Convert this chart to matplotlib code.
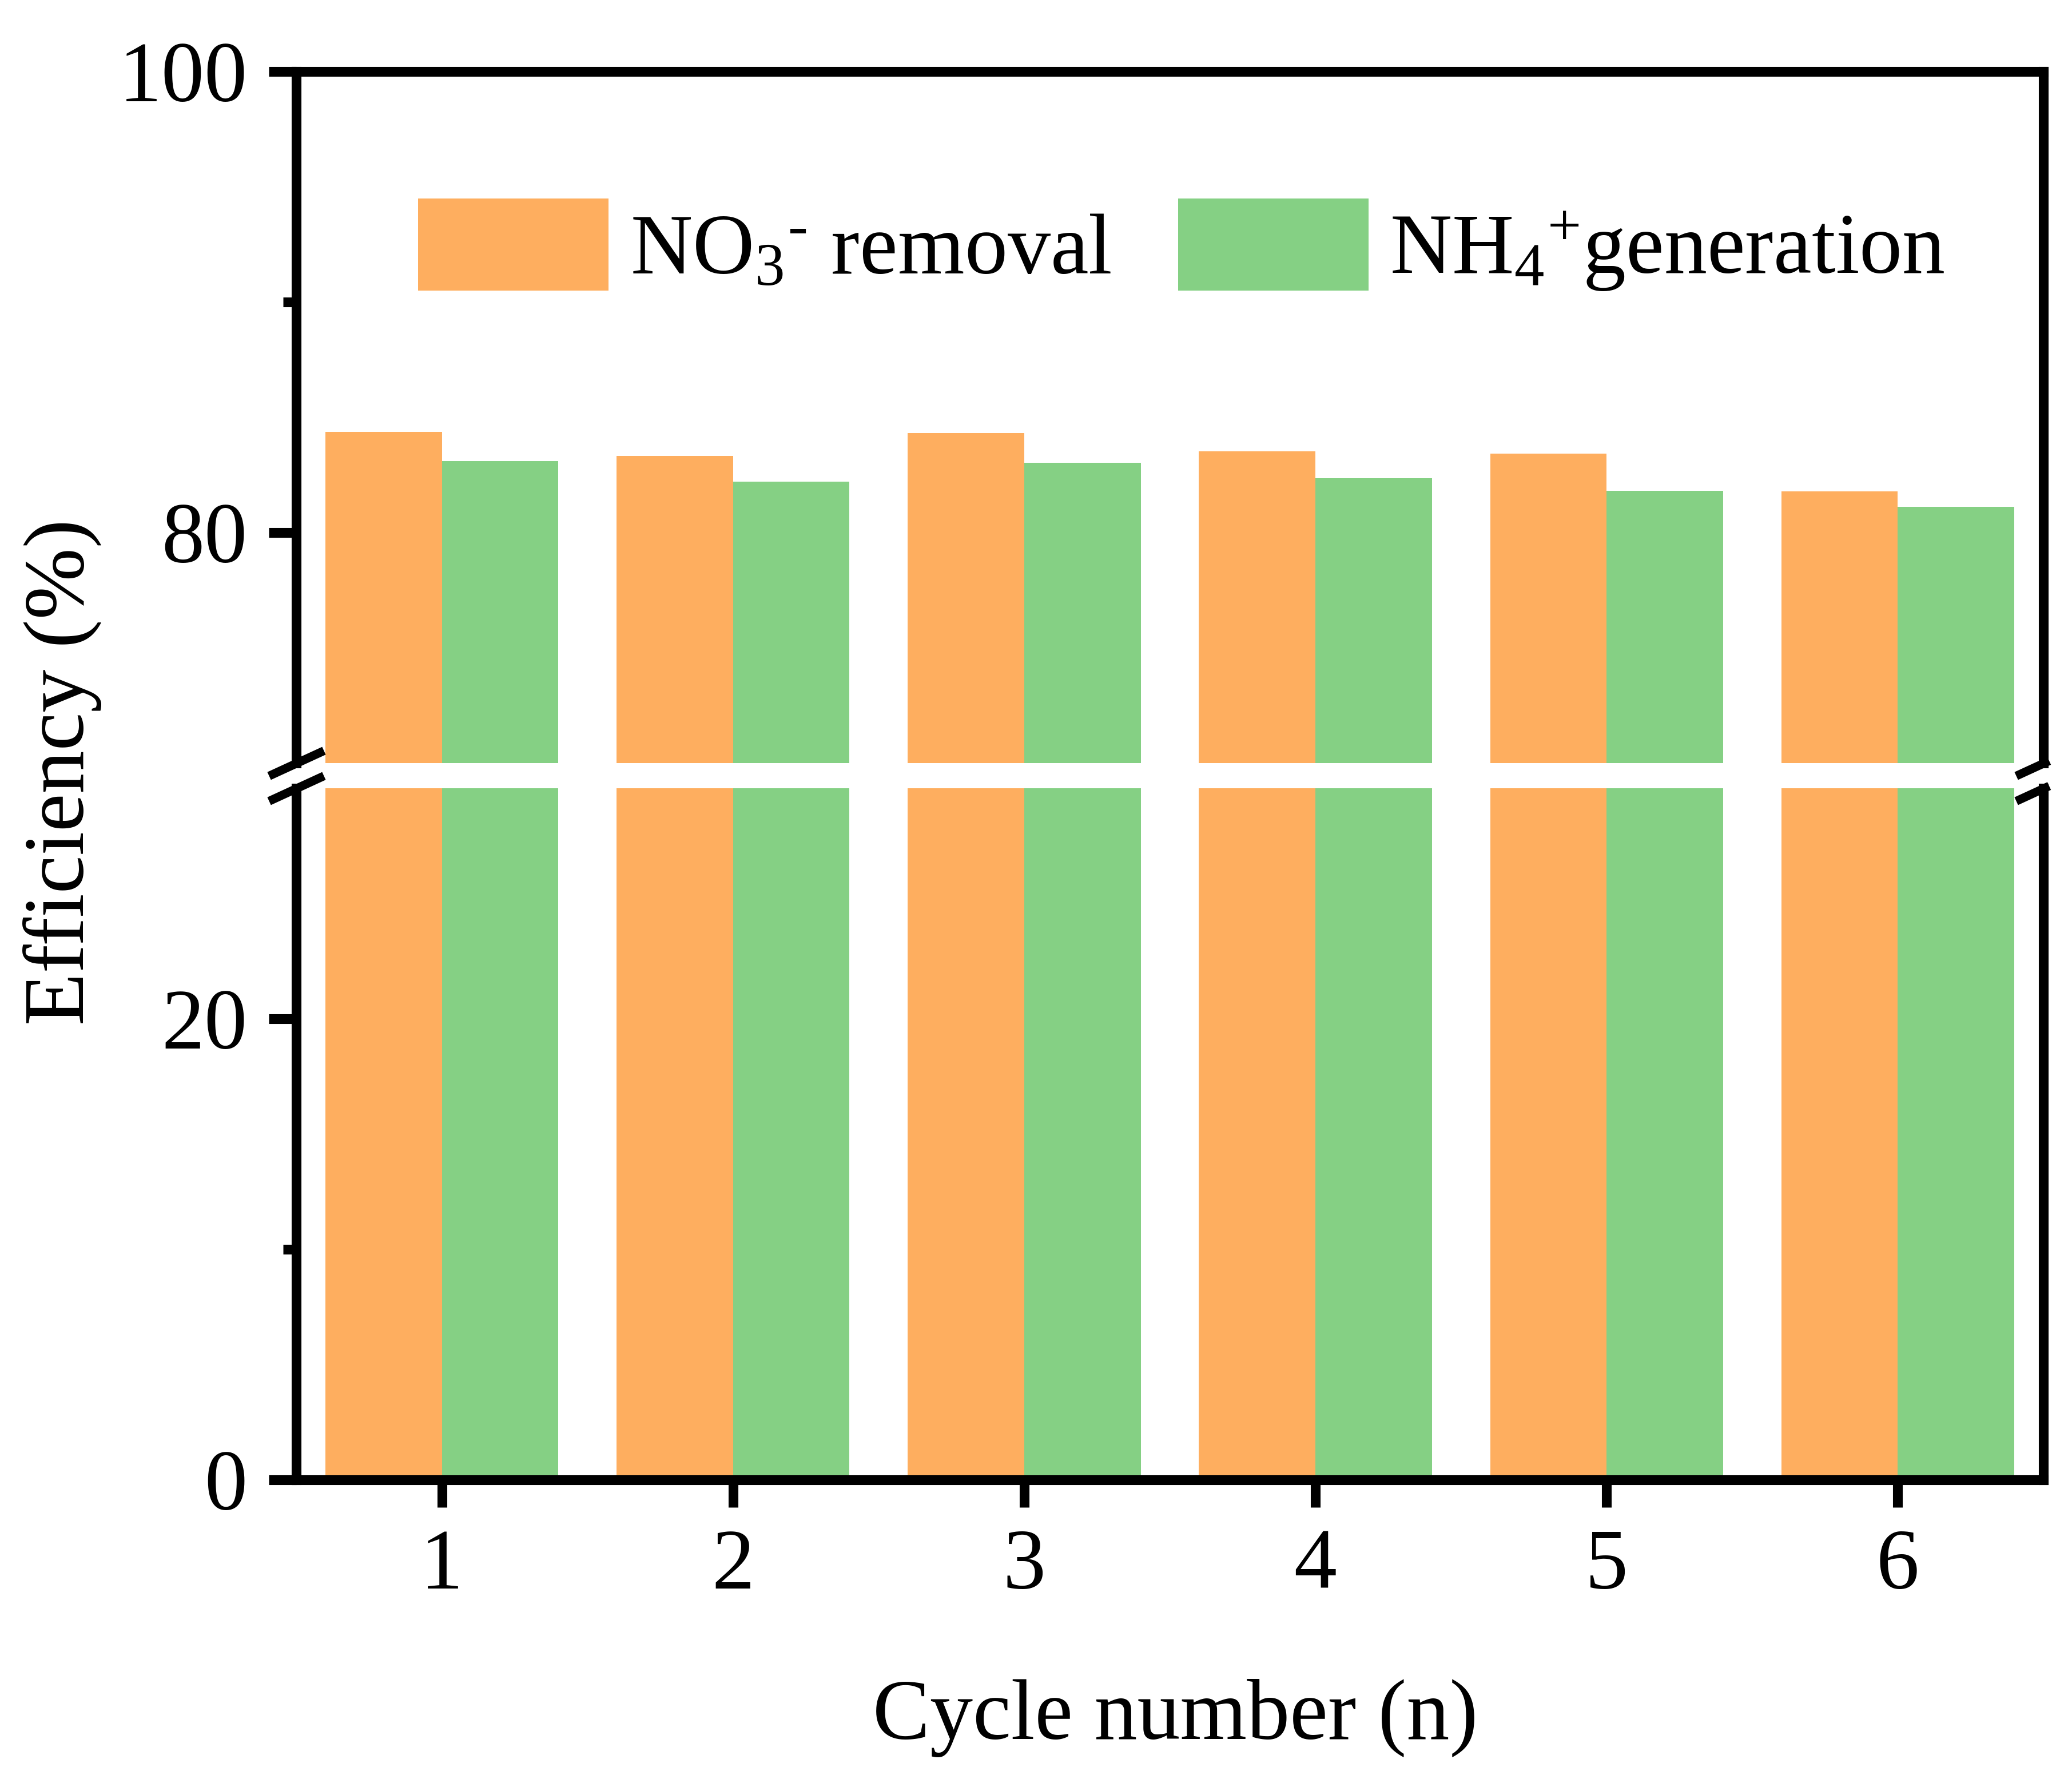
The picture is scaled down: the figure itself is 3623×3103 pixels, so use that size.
import matplotlib
matplotlib.use("Agg")
import matplotlib.pyplot as plt
from matplotlib.patches import Patch
from matplotlib.ticker import FixedLocator

# Data
cycles = [1, 2, 3, 4, 5, 6]
no3_removal = [84.37, 83.33, 84.32, 83.52, 83.42, 81.79]
nh4_generation = [83.10, 82.21, 83.03, 82.35, 81.81, 81.12]
series_labels = [r"NO$_3$$^{\text{-}}$ removal", r"NH$_4$$^{+}$generation"]
series_colors = ["#FEAE5F", "#85D084"]

# Font setup (Times-like)
plt.rcParams["font.family"] = ["Liberation Serif", "DejaVu Serif"]
plt.rcParams["mathtext.fontset"] = "custom"
plt.rcParams["mathtext.rm"] = "Liberation Serif"
plt.rcParams["mathtext.it"] = "Liberation Serif:italic"
plt.rcParams["mathtext.bf"] = "Liberation Serif:bold"
plt.rcParams["font.size"] = 36

W, H = 3623, 3103
fig = plt.figure(figsize=(W / 300, H / 300), dpi=300)

# axes placement in pixels (left, right, top, bottom)
x0, x1 = 518, 3573
top_y0, top_y1 = 125, 1334
bot_y0, bot_y1 = 1378, 2587

ax_top = fig.add_axes([x0 / W, 1 - top_y1 / H, (x1 - x0) / W, (top_y1 - top_y0) / H])
ax_bot = fig.add_axes([x0 / W, 1 - bot_y1 / H, (x1 - x0) / W, (bot_y1 - bot_y0) / H])

bar_w = 0.4
lw = 4.1
for ax in (ax_top, ax_bot):
    ax.bar([c - bar_w / 2 for c in cycles], no3_removal, width=bar_w, color=series_colors[0], linewidth=0)
    ax.bar([c + bar_w / 2 for c in cycles], nh4_generation, width=bar_w, color=series_colors[1], linewidth=0)
    ax.set_xlim(0.5, 6.5)
    for s in ax.spines.values():
        s.set_linewidth(lw)
    ax.tick_params(axis="both", which="major", direction="out", length=11.5, width=lw, pad=9, labelsize=36)
    ax.tick_params(axis="both", which="minor", direction="out", length=5.5, width=lw)
    ax.tick_params(right=False, top=False)

ax_top.set_ylim(70, 100)
ax_top.yaxis.set_major_locator(FixedLocator([80, 100]))
ax_top.yaxis.set_minor_locator(FixedLocator([90]))
ax_top.spines["bottom"].set_visible(False)
ax_top.tick_params(axis="x", which="both", bottom=False, labelbottom=False)

ax_bot.set_ylim(0, 30)
ax_bot.yaxis.set_major_locator(FixedLocator([0, 20]))
ax_bot.yaxis.set_minor_locator(FixedLocator([10]))
ax_bot.spines["top"].set_visible(False)
ax_bot.set_xticks(cycles)
ax_bot.xaxis.set_minor_locator(FixedLocator([]))

# break marks on the left and right spines
slash_full = [(-1, -0.46), (1, 0.46)]
slash_right = [(-1, -0.46), (0.2, 0.092)]
mk = dict(markersize=23, mew=3.6, color="k", linestyle="none", clip_on=False, zorder=10)
ax_top.plot([0], [0], transform=ax_top.transAxes, marker=slash_full, **mk)
ax_top.plot([1], [0], transform=ax_top.transAxes, marker=slash_right, **mk)
ax_bot.plot([0], [1], transform=ax_bot.transAxes, marker=slash_full, **mk)
ax_bot.plot([1], [1], transform=ax_bot.transAxes, marker=slash_right, **mk)

# legend
handles = [Patch(facecolor=c, edgecolor="none") for c in series_colors]
ax_top.legend(handles, series_labels, ncol=2, loc="center left",
              bbox_to_anchor=(731 / W, 1 - 430 / H), bbox_transform=fig.transFigure,
              frameon=False, fontsize=36, handlelength=2.22, handleheight=1.27,
              handletextpad=0.25, columnspacing=0.78, borderpad=0, borderaxespad=0)

# axis titles
fig.text(109 / W, 1 - 1350 / H, "Efficiency (%)", rotation=90, ha="center", va="center", fontsize=36)
fig.text(2055 / W, 1 - 3003 / H, "Cycle number (n)", ha="center", va="center", fontsize=36)

fig.savefig("out.png", dpi=300)
plt.close(fig)
